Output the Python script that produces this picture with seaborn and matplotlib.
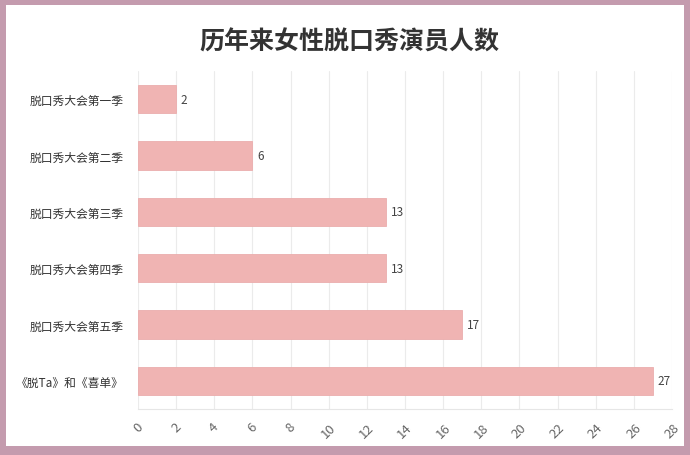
import matplotlib
matplotlib.use("Agg")
import matplotlib.pyplot as plt
import matplotlib.patches as mpatches
import seaborn as sns
import pandas as pd

# data
seasons = ["脱口秀大会第一季", "脱口秀大会第二季", "脱口秀大会第三季",
           "脱口秀大会第四季", "脱口秀大会第五季", "《脱Ta》和《喜单》"]
counts = [2, 6, 13, 13, 17, 27]
xticks = list(range(0, 29, 2))
title = "历年来女性脱口秀演员人数"

df = pd.DataFrame({"season": seasons, "count": counts})

sns.set_style("white")
plt.rcParams['font.family'] = ['Noto Sans CJK SC', 'DejaVu Sans']

fig = plt.figure(figsize=(6.9, 4.56), dpi=100)
fig.patch.set_facecolor("#c49bae")
# white card inside the mauve frame
fig.add_artist(mpatches.Rectangle((6 / 690, 9 / 456), 678 / 690, 441 / 456,
                                  transform=fig.transFigure, facecolor="white",
                                  edgecolor="none", zorder=0))

ax = fig.add_axes([138 / 690, 1 - 410 / 456, 534 / 690, 338 / 456])
ax.set_facecolor("none")

sns.barplot(data=df, x="count", y="season", order=seasons, color="#f0b4b3",
            saturation=1, width=0.5, edgecolor="#ebadad", linewidth=0.6, ax=ax)

for i, v in enumerate(counts):
    ax.text(v + 0.25, i, str(v), va="center", ha="left", fontsize=8.5, color="#444444")

ax.set_xlim(0, 28)
ax.set_ylim(5.5, -0.5)
ax.set_xticks(xticks)
ax.set_xticklabels([str(t) for t in xticks], rotation=45, ha="center",
                   fontsize=9.5, color="#666666")
ax.tick_params(axis="x", length=5, color="#e6e6e6", pad=3)
ax.tick_params(axis="y", length=0, pad=10, labelsize=8.5, labelcolor="#333333")
ax.xaxis.grid(True, color="#ebebeb", linewidth=0.8)
ax.set_axisbelow(True)
for s in ["top", "right", "left"]:
    ax.spines[s].set_visible(False)
ax.spines["bottom"].set_color("#e6e6e6")
ax.set_xlabel("")
ax.set_ylabel("")

fig.text(349 / 690, 1 - 42 / 456, title, ha="center", va="center",
         fontsize=18, fontweight="bold", color="#333333")

fig.savefig("out.png", dpi=100, facecolor=fig.get_facecolor())
